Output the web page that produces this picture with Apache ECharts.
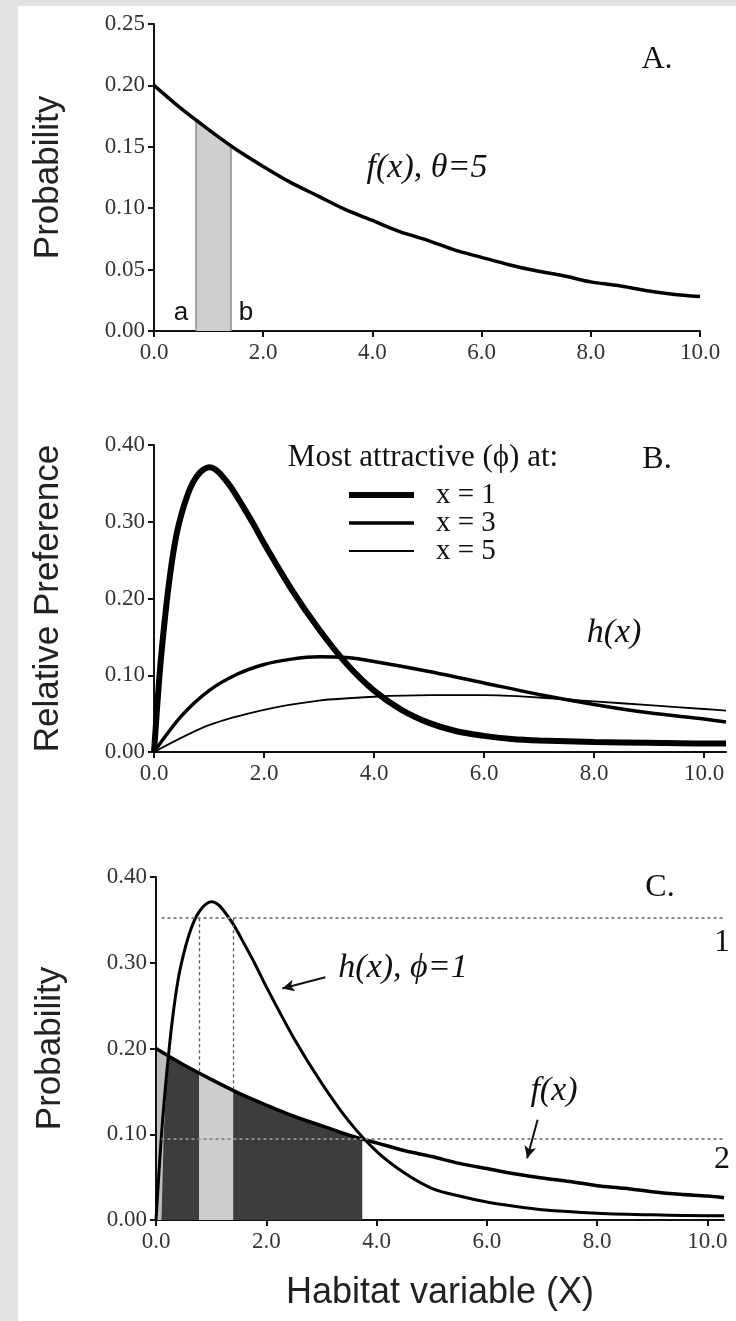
<!DOCTYPE html>
<html>
<head>
<meta charset="utf-8">
<title>Habitat variable - f(x), h(x)</title>
<script src="https://cdn.jsdelivr.net/npm/echarts@6/dist/echarts.min.js"></script>
<style>
  html, body { margin: 0; padding: 0; background: #fff; }
  #main { width: 736px; height: 1321px; }
</style>
</head>
<body>
<div id="main"></div>
<script>
// ---- data ----
const xTicks = [0, 2, 4, 6, 8, 10];

// f(x), theta = 5 (panels A and C)
const fX = [0, 0.5, 1, 1.5, 2, 2.5, 3, 3.5, 4, 4.5, 5, 5.5, 6, 6.5, 7, 7.5, 8, 8.5, 9, 9.5, 10];
const fY = [0.200, 0.181, 0.164, 0.148, 0.134, 0.121, 0.110, 0.099, 0.090, 0.081, 0.074, 0.066, 0.060, 0.054, 0.049, 0.045, 0.040, 0.037, 0.033, 0.030, 0.028];
const fTailX = [10.3];
const fTailY = [0.026];

// panel A shaded interval a..b
const bandAX = [0.77, 1.0, 1.2, 1.41];
const bandAY = [0.172, 0.164, 0.157, 0.151];

// panel B: h(x) for phi = 1, 3, 5
const h1X = [0, 0.1, 0.2, 0.3, 0.4, 0.5, 0.6, 0.7, 0.8, 0.9, 1.0, 1.1, 1.2, 1.4, 1.6, 1.8, 2.0, 2.5, 3.0, 3.5, 4.0, 4.5, 5.0, 5.5, 6.0, 6.5, 7.0, 8.0, 9.0, 10.0, 10.4];
const h1Y = [0, 0.10, 0.175, 0.235, 0.28, 0.31, 0.333, 0.35, 0.361, 0.368, 0.371, 0.369, 0.363, 0.345, 0.322, 0.298, 0.272, 0.212, 0.16, 0.115, 0.08, 0.055, 0.038, 0.027, 0.021, 0.017, 0.015, 0.013, 0.012, 0.011, 0.011];
const h3X = [0, 0.5, 1, 1.5, 2, 2.5, 3, 3.5, 4, 5, 6, 7, 8, 9, 10, 10.4];
const h3Y = [0, 0.047, 0.08, 0.101, 0.114, 0.121, 0.124, 0.123, 0.118, 0.105, 0.09, 0.075, 0.062, 0.051, 0.043, 0.039];
const h5X = [0, 1, 2, 3, 4, 5, 6, 7, 8, 9, 10, 10.4];
const h5Y = [0, 0.035, 0.055, 0.067, 0.072, 0.074, 0.074, 0.071, 0.066, 0.061, 0.056, 0.054];
const legendNames = ['x = 1', 'x = 3', 'x = 5'];

// panel C: h(x), phi = 1
const hcX = [0, 0.1, 0.2, 0.3, 0.4, 0.5, 0.6, 0.7, 0.8, 0.9, 1.0, 1.1, 1.2, 1.4, 1.6, 1.8, 2.0, 2.5, 3.0, 3.5, 4.0, 4.5, 5.0, 5.5, 6.0, 6.5, 7.0, 8.0, 9.0, 10.0, 10.3];
const hcY = [0, 0.10, 0.175, 0.235, 0.28, 0.31, 0.333, 0.35, 0.361, 0.368, 0.371, 0.369, 0.363, 0.345, 0.322, 0.298, 0.272, 0.212, 0.16, 0.115, 0.08, 0.055, 0.037, 0.028, 0.021, 0.016, 0.012, 0.008, 0.006, 0.005, 0.005];
// shaded areas in C
const sliverX = [0.02, 0.1, 0.24];
const sliverY = [0.199, 0.196, 0.191];
const darkX = [0.1, 0.14, 0.18, 0.24, 0.4, 0.6, 0.78, 1.0, 1.4, 1.8, 2.2, 2.6, 3.0, 3.4, 3.74];
const darkY = [0.0, 0.1, 0.15, 0.191, 0.185, 0.177, 0.171, 0.164, 0.151, 0.140, 0.129, 0.119, 0.110, 0.101, 0.095];
const bandCX = [0.78, 1.0, 1.2, 1.4];
const bandCY = [0.171, 0.164, 0.157, 0.151];
const level1 = 0.352;
const level2 = 0.095;

// ---- helpers ----
const serif = "'Liberation Serif', 'DejaVu Serif', serif";
const sans = "'Liberation Sans', Arial, sans-serif";
const pairs = (xs, ys) => xs.map((x, i) => [x, ys[i]]);

function xAx(grid, max, name) {
  return {
    type: 'value', gridIndex: grid, min: 0, max: max, interval: 2,
    axisLine: { onZero: false, lineStyle: { color: '#111', width: 2 } },
    axisTick: { customValues: xTicks, length: 6, lineStyle: { color: '#111', width: 2 } },
    axisLabel: { customValues: xTicks, formatter: v => v.toFixed(1), color: '#333', fontFamily: serif, fontSize: 23, margin: 10 },
    splitLine: { show: false },
    name: name || '', nameLocation: 'middle', nameGap: 55,
    nameTextStyle: { fontFamily: sans, fontSize: 36, color: '#222' }
  };
}
function yAx(grid, max, step, name) {
  return {
    type: 'value', gridIndex: grid, min: 0, max: max, interval: step,
    axisLine: { show: true, lineStyle: { color: '#111', width: 2 } },
    axisTick: { show: true, length: 6, lineStyle: { color: '#111', width: 2 } },
    axisLabel: { formatter: v => v.toFixed(2), color: '#333', fontFamily: serif, fontSize: 23, margin: 9 },
    splitLine: { show: false },
    name: name, nameLocation: 'middle', nameRotate: 90, nameGap: 88,
    nameTextStyle: { fontFamily: sans, fontSize: 35, color: '#222' }
  };
}
function curve(grid, data, width, z) {
  return {
    type: 'line', xAxisIndex: grid, yAxisIndex: grid, data: data,
    symbol: 'none', smooth: 0.3, z: z || 5,
    lineStyle: { color: '#000', width: width }
  };
}
function area(grid, data, color, z) {
  return {
    type: 'line', xAxisIndex: grid, yAxisIndex: grid, data: data,
    symbol: 'none', smooth: false, z: z,
    lineStyle: { width: 0 }, areaStyle: { color: color, opacity: 1 }
  };
}
function text(x, y, str, font, align) {
  return { type: 'text', x: x, y: y, z: 100,
    style: { text: str, font: font, fill: '#111', align: align || 'center', verticalAlign: 'middle' } };
}

const dashStyle = { color: '#8a8a8a', width: 2, type: [3, 3] };

const option = {
  animation: false,
  backgroundColor: '#fff',
  grid: [
    { left: 154, top: 24, width: 546, height: 307 },
    { left: 154, top: 445, width: 572, height: 307 },
    { left: 156, top: 877, width: 568, height: 343 }
  ],
  xAxis: [xAx(0, 10), xAx(1, 10.4), xAx(2, 10.3, 'Habitat variable (X)')],
  yAxis: [yAx(0, 0.25, 0.05, 'Probability'), yAx(1, 0.4, 0.1, 'Relative Preference'), yAx(2, 0.4, 0.1, 'Probability')],
  series: [
    // A
    Object.assign(area(0, pairs(bandAX, bandAY), '#cfcfcf', 2), {
      markLine: {
        silent: true, symbol: 'none', label: { show: false },
        lineStyle: { color: '#8c8c8c', width: 1.5, type: 'solid' },
        data: [
          [{ coord: [bandAX[0], 0] }, { coord: [bandAX[0], bandAY[0]] }],
          [{ coord: [bandAX[3], 0] }, { coord: [bandAX[3], bandAY[3]] }]
        ]
      }
    }),
    curve(0, pairs(fX, fY), 3.5),
    // B
    curve(1, pairs(h5X, h5Y), 1.8),
    curve(1, pairs(h3X, h3Y), 3.5),
    curve(1, pairs(h1X, h1Y), 6),
    // C shading
    area(2, pairs(sliverX, sliverY), '#bdbdbd', 1),
    area(2, pairs(darkX, darkY), '#3d3d3d', 2),
    Object.assign(area(2, pairs(bandCX, bandCY), '#cdcdcd', 3), {
      markLine: {
        silent: true, symbol: 'none', label: { show: false }, z: 8,
        data: [
          [{ coord: [0.1, level1], lineStyle: dashStyle }, { coord: [10.3, level1] }],
          [{ coord: [0.1, level2], lineStyle: dashStyle }, { coord: [10.3, level2] }],
          [{ coord: [bandCX[0], level1], lineStyle: { color: '#555', width: 1.3, type: [3, 3] } }, { coord: [bandCX[0], bandCY[0]] }],
          [{ coord: [bandCX[3], level1], lineStyle: { color: '#555', width: 1.3, type: [3, 3] } }, { coord: [bandCX[3], bandCY[3]] }]
        ]
      }
    }),
    curve(2, pairs(fX, fY).concat(pairs(fTailX, fTailY)), 3.5, 6),
    Object.assign(curve(2, pairs(hcX, hcY), 3, 6), {
      markLine: {
        silent: true, symbol: ['none', 'arrow'], symbolSize: [9, 12], label: { show: false },
        lineStyle: { color: '#111', width: 2, type: 'solid' },
        data: [
          [{ coord: [3.07, 0.283] }, { coord: [2.29, 0.27] }],
          [{ coord: [6.92, 0.117] }, { coord: [6.73, 0.072] }]
        ]
      }
    })
  ],
  graphic: [
    { type: 'rect', z: -10, shape: { x: 0, y: 0, width: 18, height: 1321 }, style: { fill: '#e3e3e3' } },
    { type: 'rect', z: -10, shape: { x: 0, y: 0, width: 736, height: 6 }, style: { fill: '#e3e3e3' } },
    // panel A
    text(657, 60, 'A.', '32px ' + serif),
    text(427, 168, 'f(x), θ=5', 'italic 34px ' + serif),
    text(181, 313, 'a', '26px ' + sans),
    text(246, 313, 'b', '26px ' + sans),
    // panel B
    text(657, 460, 'B.', '32px ' + serif),
    text(423, 458, 'Most attractive (ϕ) at:', '31px ' + serif),
    text(614, 633, 'h(x)', 'italic 34px ' + serif),
    { type: 'line', shape: { x1: 349, y1: 495, x2: 414, y2: 495 }, style: { stroke: '#000', lineWidth: 6 } },
    { type: 'line', shape: { x1: 349, y1: 523, x2: 414, y2: 523 }, style: { stroke: '#000', lineWidth: 3.5 } },
    { type: 'line', shape: { x1: 349, y1: 551, x2: 414, y2: 551 }, style: { stroke: '#000', lineWidth: 1.8 } },
    text(436, 495, legendNames[0], '29px ' + serif, 'left'),
    text(436, 523, legendNames[1], '29px ' + serif, 'left'),
    text(436, 551, legendNames[2], '29px ' + serif, 'left'),
    // panel C
    text(660, 888, 'C.', '32px ' + serif),
    text(722, 943, '1', '32px ' + serif),
    text(722, 1160, '2', '32px ' + serif),
    text(403, 968, 'h(x), ϕ=1', 'italic 34px ' + serif),
    text(554, 1091, 'f(x)', 'italic 34px ' + serif)
  ]
};

const chart = echarts.init(document.getElementById('main'));
chart.setOption(option);
</script>
</body>
</html>
